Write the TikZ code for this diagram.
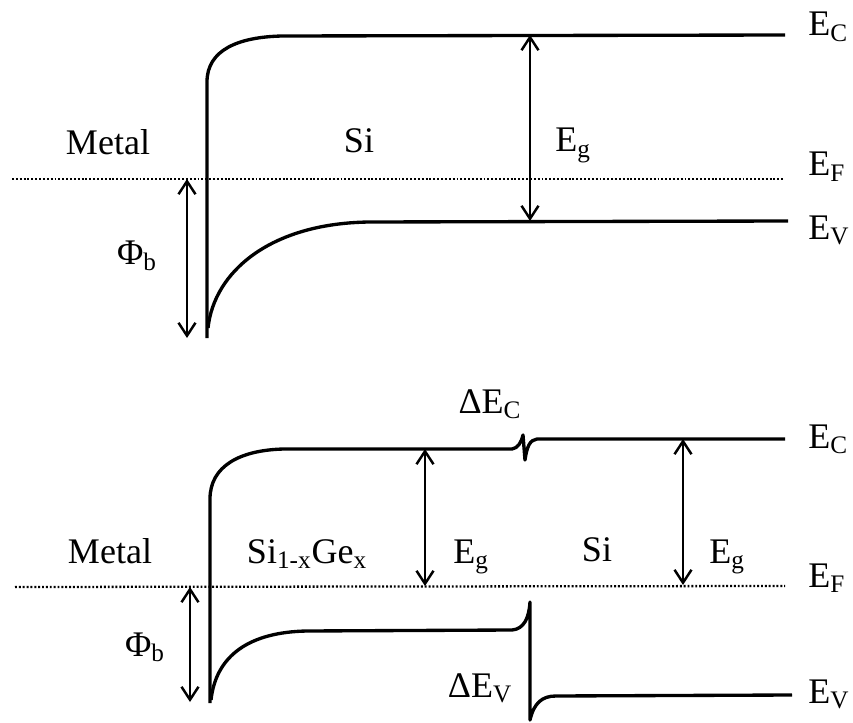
\documentclass[tikz,border=0pt]{standalone}
\usepackage{fontspec}
\setmainfont{Liberation Serif}
\usetikzlibrary{arrows.meta}
\usetikzlibrary{positioning}

\tikzset{
    band/.style={line width=1.9pt, line join=round},
    fermi/.style={line width=1.3pt, dash pattern=on 1.1pt off 1.1pt},
    gap/.style={line width=1.4pt, {Straight Barb[length=2.6mm,width=3.4mm]}-{Straight Barb[length=2.6mm,width=3.4mm]}},
    lbl/.style={font=\fontsize{20.5}{24}\selectfont, inner sep=0pt, anchor=base},
    lvl/.style={lbl, anchor=base west},
}

\begin{document}
\begin{tikzpicture}[x=0.02cm, y=-0.02cm]
    \useasboundingbox (0,0) rectangle (853,723);

    % Si
    \draw[band] (207,338) -- (207,82) .. controls (207,50) and (238,37) .. (282,36) -- (785,35);
    \draw[band] (208,328) .. controls (214,272) and (270,223) .. (370,222) -- (788,221);
    \draw[fermi] (12,179) -- (783,179);

    \coordinate (phi1a) at (187,179);
    \coordinate (phi1b) at (187,338);
    \coordinate (eg1a) at (530,35);
    \coordinate (eg1b) at (530,221);
    \draw[gap] (phi1a) -- (phi1b);
    \draw[gap] (eg1a) -- (eg1b);

    \node[lbl] (metal1) at (108,155) {Metal};
    \node[lbl] (si1) at (359,153) {Si};
    \node[lbl] (eg1) at (573,152) {E\textsubscript{g}};
    \node[lbl] (phib1) at (137,265) {Φ\textsubscript{b}};
    \node[lvl] (ec1) at (808,36) {E\textsubscript{C}};
    \node[lvl] (ef1) at (808,176) {E\textsubscript{F}};
    \node[lvl] (ev1) at (808,239) {E\textsubscript{V}};

    % SiGe / Si
    \draw[band] (210,703) -- (210,499) .. controls (210,466) and (240,450) .. (284,449) -- (512,449)
        .. controls (518,448) and (521,443) .. (523,435) -- (525,460)
        .. controls (527,446) and (530,440) .. (537,439) -- (785,439);
    \draw[band] (211,700) .. controls (216,655) and (250,632) .. (307,631) -- (512,630)
        .. controls (524,629) and (529,618) .. (530,602) -- (530,720)
        .. controls (534,703) and (542,696) .. (556,696) -- (792,695);
    \draw[fermi] (15,587) -- (785,586);

    \coordinate (phi2a) at (190,587);
    \coordinate (phi2b) at (190,702);
    \coordinate (eg2a) at (425,449);
    \coordinate (eg2b) at (425,586);
    \coordinate (eg3a) at (683,439);
    \coordinate (eg3b) at (683,585);
    \draw[gap] (phi2a) -- (phi2b);
    \draw[gap] (eg2a) -- (eg2b);
    \draw[gap] (eg3a) -- (eg3b);

    \node[lbl] (metal2) at (110,563) {Metal};
    \node[lbl] (sige) at (307,563) {Si\textsubscript{1-x}Ge\textsubscript{x}};
    \node[lbl] (eg2) at (471,563) {E\textsubscript{g}};
    \node[lbl] (si2) at (597,561) {Si};
    \node[lbl] (eg3) at (727,563) {E\textsubscript{g}};
    \node[lbl] (phib2) at (145,656) {Φ\textsubscript{b}};
    \node[lbl] (dec) at (490,413) {ΔE\textsubscript{C}};
    \node[lbl] (dev) at (480,697) {ΔE\textsubscript{V}};
    \node[lvl] (ec2) at (808,448) {E\textsubscript{C}};
    \node[lvl] (ef2) at (808,587) {E\textsubscript{F}};
    \node[lvl] (ev2) at (808,703) {E\textsubscript{V}};
\end{tikzpicture}
\end{document}
